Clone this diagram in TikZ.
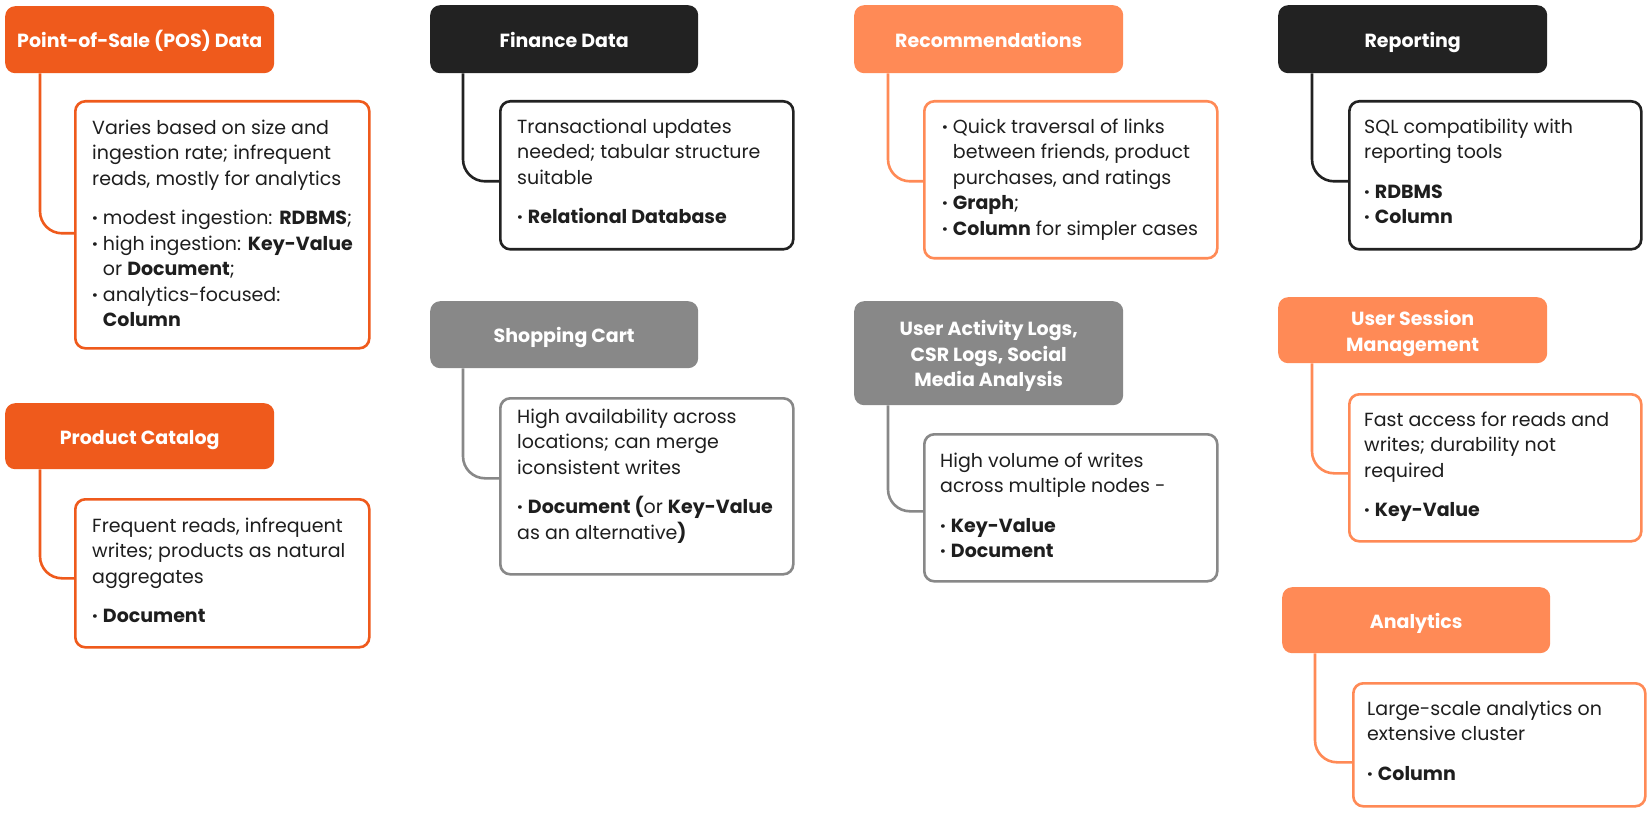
\documentclass[tikz,border=0pt]{standalone}
\usepackage{fontspec}
\setmainfont{Poppins}
\definecolor{cA}{HTML}{EF5A1C}
\definecolor{cB}{HTML}{FF8A56}
\definecolor{cK}{HTML}{222222}
\definecolor{cG}{HTML}{888888}
\definecolor{ctxt}{HTML}{1E1E1E}
\newcommand{\hdrfont}{\fontsize{19}{25.5}\selectfont\bfseries}
\newcommand{\bodyfont}{\fontsize{19}{25.5}\selectfont}
\newcommand{\bul}{\textbf{·}~}
\newcommand{\ind}{\hphantom{\textbf{·}~}}
\newcommand{\hd}[1]{\raisebox{-3pt}[\height][\depth]{\begin{tabular}{@{}c@{}}#1\end{tabular}}}
\begin{document}
\begin{tikzpicture}[x=1pt,y=-1pt,
  hdr/.style={rounded corners=10pt, text=white, font=\hdrfont, align=center, inner sep=0pt, anchor=north west},
  bodybox/.style={draw=#1, line width=2.6pt, rounded corners=10pt, fill=white, anchor=north west, inner sep=0pt},
  txt/.style={anchor=north west, align=left, inner sep=0pt, font=\bodyfont, text=ctxt, yshift=17.85pt},
  conn/.style={line width=2.6pt, rounded corners=22pt, draw=#1}
]
\fill[white] (0,0) rectangle (1650,813);
\useasboundingbox (0,0) rectangle (1650,813);

% ---------- Point-of-Sale
\node[hdr, fill=cA, minimum width=269pt, minimum height=67pt] (pos) at (5,6) {\hd{Point-of-Sale (POS) Data}};
\node[bodybox=cA, minimum width=294pt, minimum height=247pt] (posb) at (74,100) {};
\draw[conn=cA] ([xshift=35pt]pos.south west) |- ([yshift=-8.5pt]posb.west);
\node[txt] (post) at (92,134) {\strut Varies based on size and\\ingestion rate; infrequent\\reads, mostly for analytics\\[14pt]
\bul modest ingestion: \textbf{RDBMS};\\\bul high ingestion: \textbf{Key-Value}\\\ind or \textbf{Document};\\\bul analytics-focused:\\\ind\textbf{Column}};

% ---------- Product Catalog
\node[hdr, fill=cA, minimum width=269pt, minimum height=66pt] (prod) at (5,403) {\hd{Product Catalog}};
\node[bodybox=cA, minimum width=294pt, minimum height=148pt] (prodb) at (74,498) {};
\draw[conn=cA] ([xshift=35pt]prod.south west) |- ([yshift=-5pt]prodb.west);
\node[txt] (prodt) at (92,532) {\strut Frequent reads, infrequent\\writes; products as natural\\aggregates\\[14pt]\bul\textbf{Document}};

% ---------- Finance Data
\node[hdr, fill=cK, minimum width=268pt, minimum height=68pt] (fin) at (430,5) {\hd{Finance Data}};
\node[bodybox=cK, minimum width=293pt, minimum height=148pt] (finb) at (499,100) {};
\draw[conn=cK] ([xshift=33pt]fin.south west) |- ([yshift=-6pt]finb.west);
\node[txt] (fint) at (517,133) {\strut Transactional updates\\needed; tabular structure\\suitable\\[14pt]\bul\textbf{Relational Database}};

% ---------- Shopping Cart
\node[hdr, fill=cG, minimum width=268pt, minimum height=67pt] (shop) at (430,301) {\hd{Shopping Cart}};
\node[bodybox=cG, minimum width=293pt, minimum height=176pt] (shopb) at (499,397) {};
\draw[conn=cG] ([xshift=33pt]shop.south west) |- ([yshift=8pt]shopb.west);
\node[txt] (shopt) at (517,423) {\strut High availability across\\locations; can merge\\iconsistent writes\\[14pt]\bul\textbf{Document (}or \textbf{Key-Value}\\as an alternative\textbf{)}};

% ---------- Recommendations
\node[hdr, fill=cB, minimum width=269pt, minimum height=68pt] (rec) at (854,5) {\hd{Recommendations}};
\node[bodybox=cB, minimum width=293pt, minimum height=157pt] (recb) at (923,100) {};
\draw[conn=cB] ([xshift=34pt]rec.south west) |- ([yshift=-1.5pt]recb.west);
\node[txt] (rect) at (942,133) {\strut\bul Quick traversal of links\\\ind between friends, product\\\ind purchases, and ratings\\\bul\textbf{Graph};\\\bul\textbf{Column} for simpler cases};

% ---------- User Activity Logs
\node[hdr, fill=cG, minimum width=269pt, minimum height=104pt] (ual) at (854,301) {\hd{User Activity Logs,\\CSR Logs, Social\\Media Analysis}};
\node[bodybox=cG, minimum width=293pt, minimum height=147pt] (ualb) at (923,433) {};
\draw[conn=cG] ([xshift=34pt]ual.south west) |- ([yshift=-3.5pt]ualb.west);
\node[txt] (ualt) at (940,467) {\strut High volume of writes\\across multiple nodes -\\[14pt]\bul\textbf{Key-Value}\\\bul\textbf{Document}};

% ---------- Reporting
\node[hdr, fill=cK, minimum width=269pt, minimum height=68pt] (rep) at (1278,5) {\hd{Reporting}};
\node[bodybox=cK, minimum width=292pt, minimum height=148pt] (repb) at (1348,100) {};
\draw[conn=cK] ([xshift=34pt]rep.south west) |- ([yshift=-6pt]repb.west);
\node[txt] (rept) at (1364,133) {\strut SQL compatibility with\\reporting tools\\[14pt]\bul\textbf{RDBMS}\\\bul\textbf{Column}};

% ---------- User Session Management
\node[hdr, fill=cB, minimum width=269pt, minimum height=66pt] (uss) at (1278,297) {\hd{User Session\\Management}};
\node[bodybox=cB, minimum width=292pt, minimum height=147pt] (ussb) at (1348,393) {};
\draw[conn=cB] ([xshift=34pt]uss.south west) |- ([yshift=-5.5pt]ussb.west);
\node[txt] (usst) at (1364,426) {\strut Fast access for reads and\\writes; durability not\\required\\[14pt]\bul\textbf{Key-Value}};

% ---------- Analytics
\node[hdr, fill=cB, minimum width=268pt, minimum height=66pt] (ana) at (1282,587) {\hd{Analytics}};
\node[bodybox=cB, minimum width=292pt, minimum height=123pt] (anab) at (1352,682) {};
\draw[conn=cB] ([xshift=33pt]ana.south west) |- ([yshift=-17.5pt]anab.west);
\node[txt] (anat) at (1367,715) {\strut Large-scale analytics on\\extensive cluster\\[14pt]\bul\textbf{Column}};
\end{tikzpicture}
\end{document}
